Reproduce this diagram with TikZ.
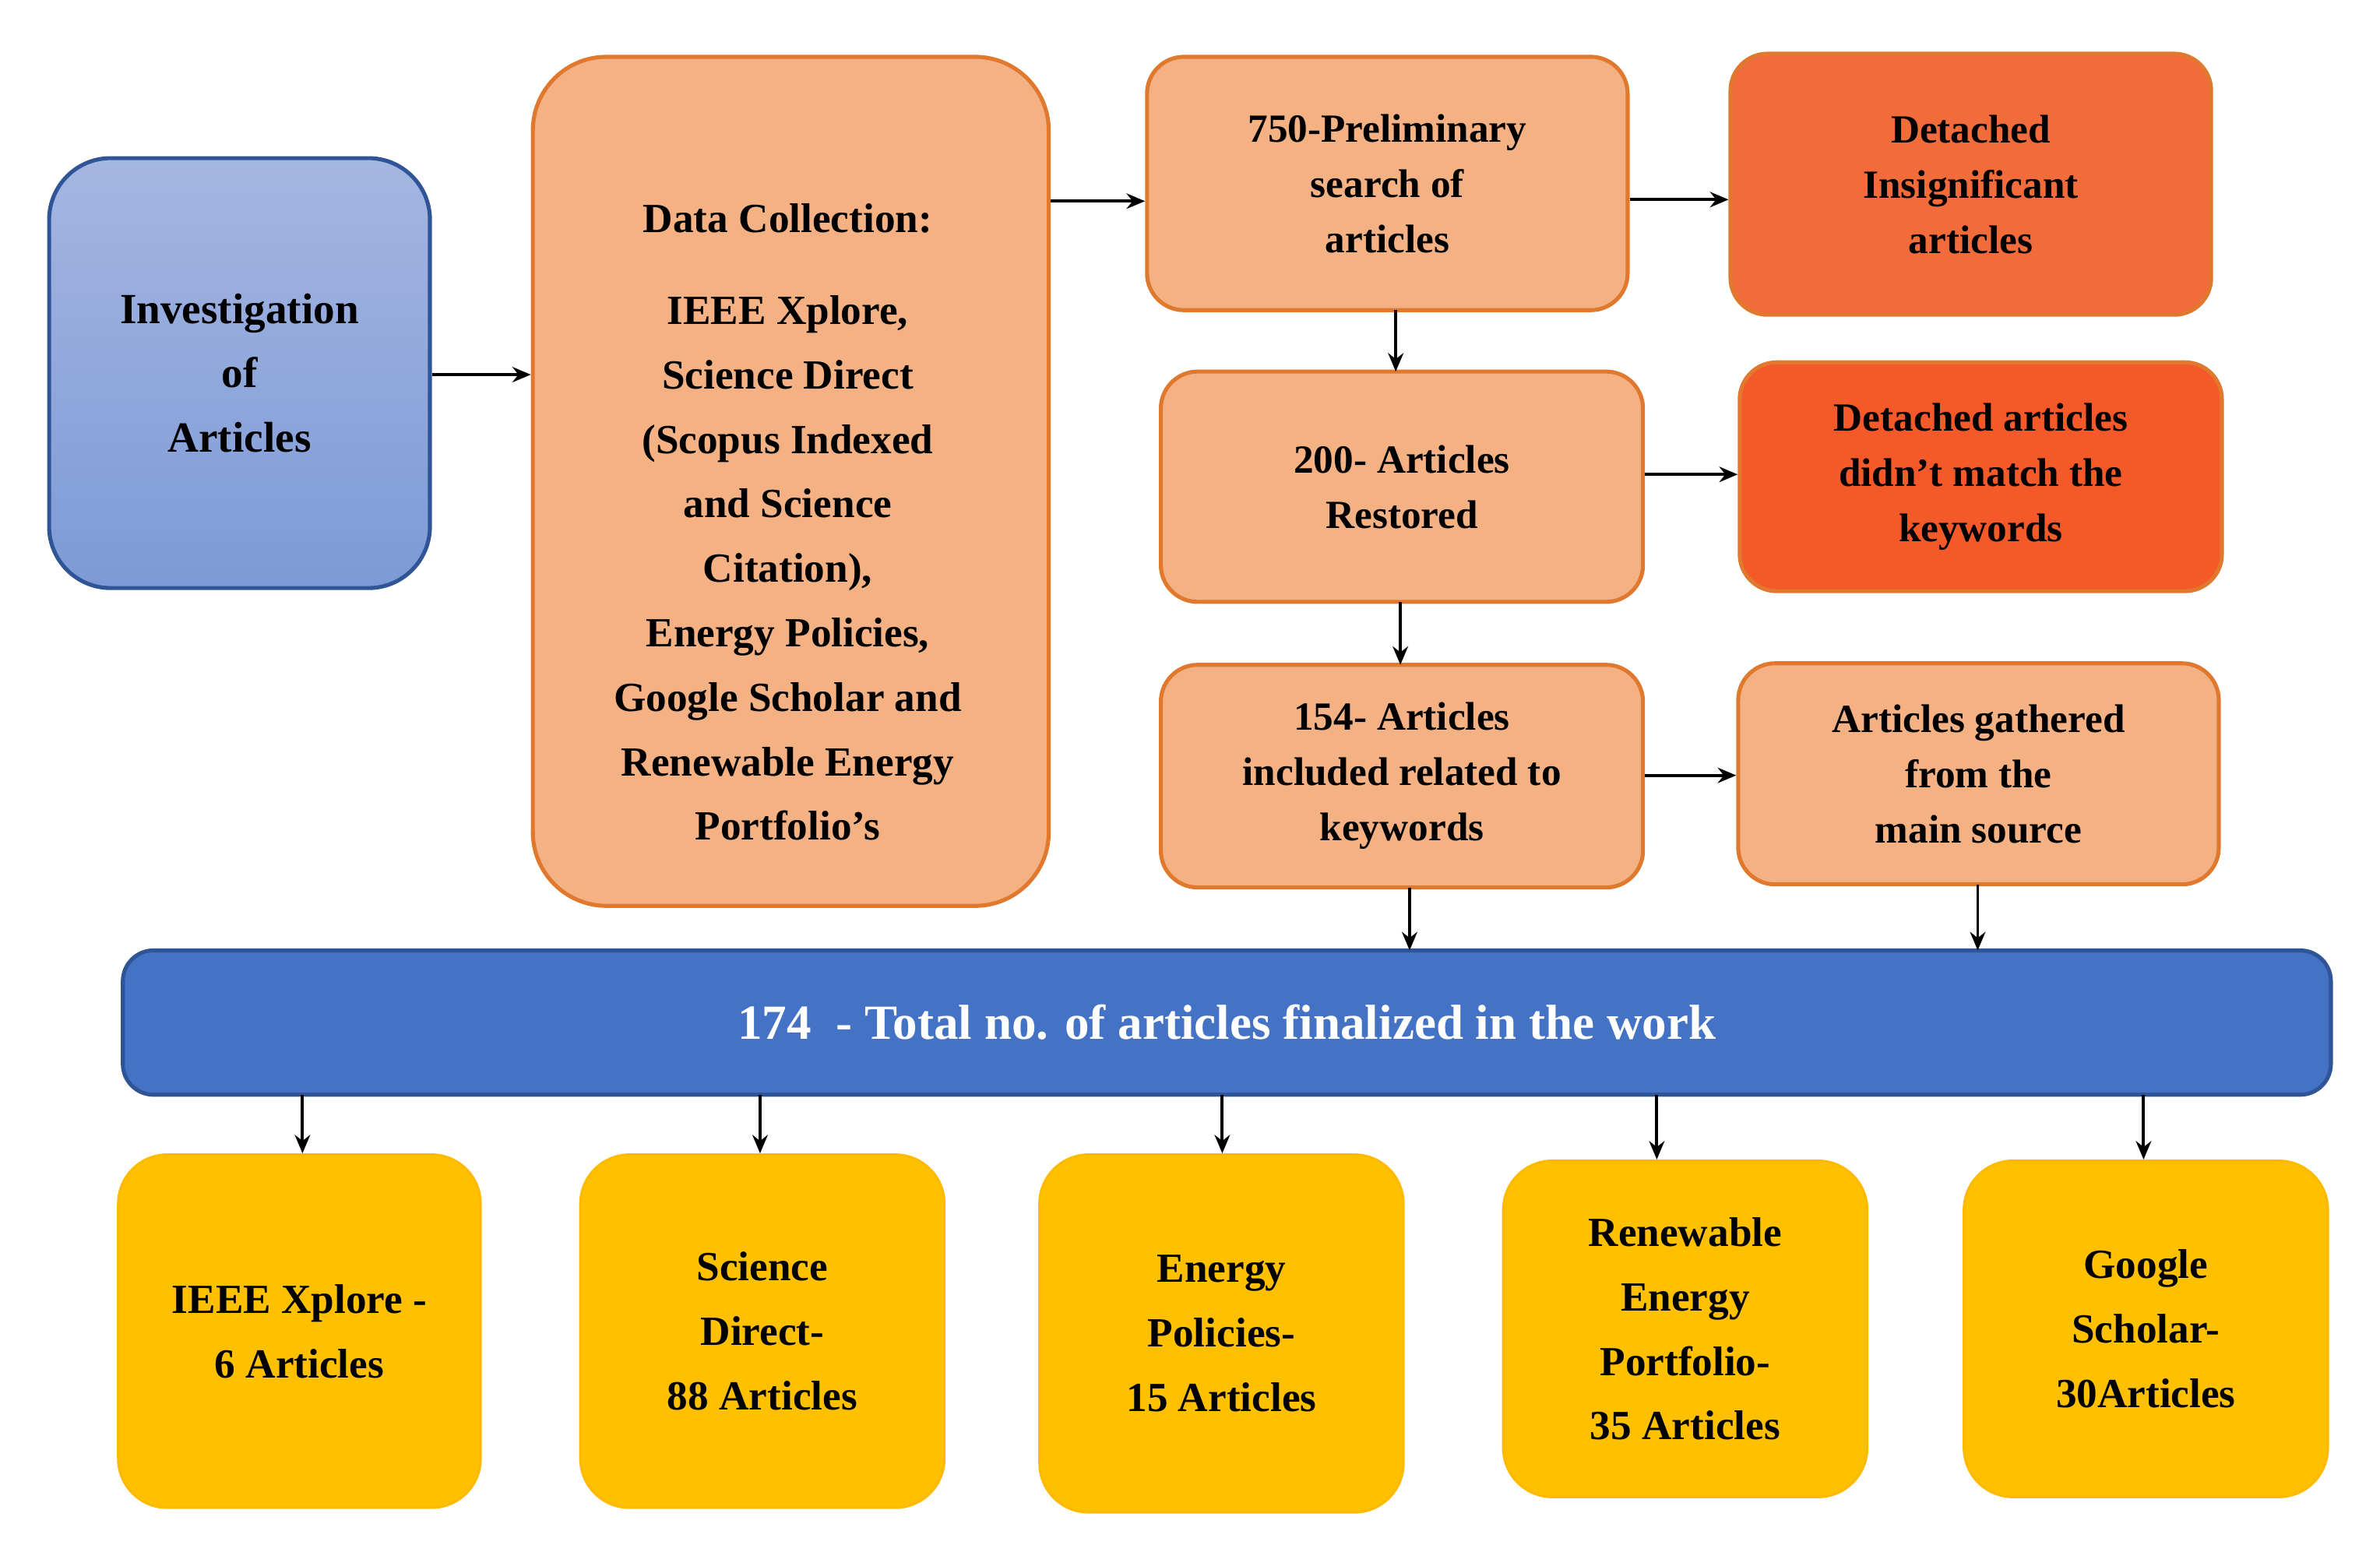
\documentclass[tikz,border=0pt]{standalone}
\usepackage{fontspec}
\setmainfont{Liberation Serif}
\usetikzlibrary{arrows.meta}
\definecolor{peach}{HTML}{F4B183}
\definecolor{peachd}{HTML}{E0782E}
\definecolor{red1}{HTML}{F26B3A}
\definecolor{red2}{HTML}{F4592A}
\definecolor{bluet}{HTML}{A5B6E2}
\definecolor{blueb}{HTML}{7D9AD6}
\definecolor{blued}{HTML}{2F5597}
\definecolor{barb}{HTML}{4472C4}
\definecolor{gold}{HTML}{FFC000}
\tikzset{
 x=0.5pt,y=-0.5pt,
 box/.style={draw=peachd,line width=1.3pt,fill=peach,rounded corners=12pt,align=center,font=\bfseries\fontsize{13}{18}\selectfont,inner sep=0pt},
 ybox/.style={draw=gold!90!orange,line width=0.8pt,fill=gold,rounded corners=16pt,align=center,font=\bfseries\fontsize{13.5}{21}\selectfont,inner sep=0pt},
 arr/.style={-{Stealth[length=6pt,width=5pt]},line width=1pt}
}
\begin{document}
\begin{tikzpicture}
\useasboundingbox (0,0) rectangle (1550,1006);
\node[draw=blued,line width=1.3pt,top color=bluet,bottom color=blueb,rounded corners=20pt,minimum width=124pt,minimum height=140pt,align=center,font=\bfseries\fontsize{14}{21}\selectfont] (inv) at (156,243) {Investigation\\of\\Articles};
\node[box,rounded corners=24pt,minimum width=168pt,minimum height=276.5pt] (dc) at (515,313.5) {};
\node[font=\bfseries\fontsize{13.5}{21}\selectfont,align=center] (dct) at (513,340) {Data Collection:\\[9pt]IEEE Xplore,\\Science Direct\\(Scopus Indexed\\and Science\\Citation),\\Energy Policies,\\Google Scholar and\\Renewable Energy\\Portfolio's};
\node[box,minimum width=156.5pt,minimum height=82.5pt] (p750) at (903.5,119.5) {750-Preliminary\\search of\\articles};
\node[box,draw=peachd,fill=red1,minimum width=156.5pt,minimum height=85pt] (d1) at (1283.5,120) {Detached\\Insignificant\\articles};
\node[box,minimum width=157pt,minimum height=75pt] (p200) at (913,317) {200- Articles\\Restored};
\node[box,draw=peachd,fill=red2,minimum width=157pt,minimum height=74.5pt] (d2) at (1290,310.5) {Detached articles\\didn't match the\\keywords};
\node[box,minimum width=157pt,minimum height=72.5pt] (p154) at (913,505.5) {154- Articles\\included related to\\keywords};
\node[box,minimum width=156.5pt,minimum height=72pt] (g) at (1288.5,504) {Articles gathered\\from the\\main source};
\node[draw=blued,line width=1.3pt,fill=barb,rounded corners=10pt,minimum width=719pt,minimum height=47pt,text=white,font=\bfseries\fontsize{16}{20}\selectfont] (bar) at (799,666) {174\enspace - Total no. of articles finalized in the work};
\node[ybox,minimum width=118pt,minimum height=115pt] (b1) at (195,867) {IEEE Xplore -\\6 Articles};
\node[ybox,minimum width=118.5pt,minimum height=115pt] (b2) at (496.5,867) {Science\\Direct-\\88 Articles};
\node[ybox,minimum width=118.5pt,minimum height=116.5pt] (b3) at (795.5,868.5) {Energy\\Policies-\\15 Articles};
\node[ybox,minimum width=118.5pt,minimum height=109.5pt] (b4) at (1097.5,865.5) {Renewable\\Energy\\Portfolio-\\35 Articles};
\node[ybox,minimum width=118.5pt,minimum height=109.5pt] (b5) at (1397.5,865.5) {Google\\Scholar-\\30Articles};
\draw[arr] (inv.east|-0,244) -- (dc.west|-0,244);
\draw[arr] (dc.east|-0,131) -- (p750.west|-0,131);
\draw[arr] (p750.east|-0,130) -- (d1.west|-0,130);
\draw[arr] (909,202) -- (909,242);
\draw[arr] (p200.east|-0,309) -- (d2.west|-0,309);
\draw[arr] (912,392) -- (912,433);
\draw[arr] (p154.east|-0,505) -- (g.west|-0,505);
\draw[arr] (918,578) -- (918,619);
\draw[arr] (1288,576) -- (1288,619);
\foreach \n/\x in {b1/197,b2/495,b3/796,b4/1079,b5/1396}
  \draw[arr] (\x,713) -- (\n.north-|{\x,0});
\end{tikzpicture}
\end{document}
